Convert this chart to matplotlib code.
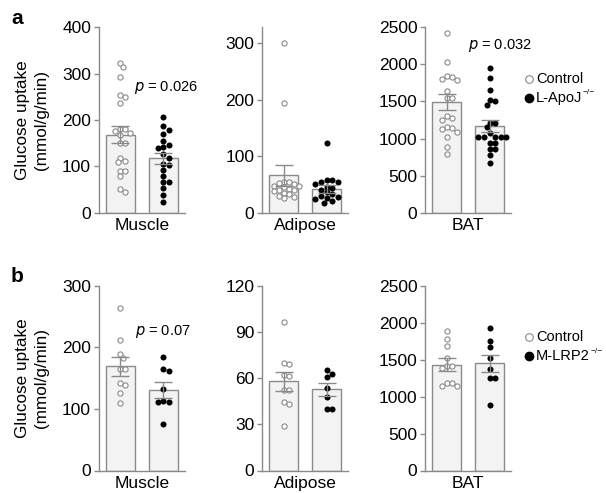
import matplotlib
matplotlib.use("Agg")
import matplotlib.pyplot as plt
import numpy as np

plt.rcParams['font.family'] = ['Liberation Sans', 'DejaVu Sans']

# ---- values ----
tissues = ["Muscle", "Adipose", "BAT"]

# panel a: Control vs L-ApoJ-/-
a_muscle_ctrl = [324, 314, 293, 254, 250, 237, 181, 180, 177, 173, 168, 150, 150,
                 119, 112, 110, 91, 90, 80, 52, 45]
a_muscle_ko = [206, 187, 178, 170, 155, 146, 142, 140, 127, 119, 106, 103, 92,
               79, 67, 67, 54, 38, 24]
a_adipose_ctrl = [300, 194, 54, 54, 52, 50, 48, 47, 45, 42, 40, 40, 38, 35, 33,
                  30, 28, 26]
a_adipose_ko = [123, 58, 57, 55, 54, 50, 46, 44, 40, 36, 33, 30, 28, 26, 24, 20, 18]
a_bat_ctrl = [2428, 2037, 1848, 1834, 1800, 1785, 1646, 1542, 1542, 1304, 1272,
              1250, 1151, 1137, 1124, 1092, 1016, 890, 791]
a_bat_ko = [1947, 1812, 1655, 1520, 1500, 1452, 1214, 1205, 1151, 1070, 1025,
            1016, 1016, 1016, 1016, 944, 944, 854, 854, 778, 674]
a_means = [(168, 117), (66, 42), (1488, 1173)]
a_sems = [(18, 11), (18, 7), (108, 80)]
a_ylims = [(400, [0, 100, 200, 300, 400]), (328, [0, 100, 200, 300]),
           (2500, [0, 500, 1000, 1500, 2000, 2500])]
a_pvals = {0: "0.026", 2: "0.032"}

# panel b: Control vs M-LRP2-/-
b_muscle_ctrl = [264, 212, 189, 182, 165, 164, 142, 138, 126, 110]
b_muscle_ko = [184, 164, 161, 133, 113, 111, 111, 75]
b_adipose_ctrl = [96.7, 69.5, 69, 62, 61.5, 52.5, 52, 44.7, 43, 28.7]
b_adipose_ko = [65.2, 62.8, 60.4, 53.3, 47.9, 40, 40]
b_bat_ctrl = [1887, 1783, 1684, 1526, 1418, 1409, 1382, 1187, 1187, 1142, 1142]
b_bat_ko = [1932, 1756, 1675, 1517, 1368, 1251, 1251, 889]
b_means = [(169, 131), (57.8, 52.7), (1431, 1449)]
b_sems = [(15, 13), (6, 4), (86, 120)]
b_ylims = [(300, [0, 100, 200, 300]), (120, [0, 30, 60, 90, 120]),
           (2500, [0, 500, 1000, 1500, 2000, 2500])]
b_pvals = {0: "0.07"}

GRAY = "#8a8a8a"
W, H = 606, 493


def swarm(vals, ytop, ax_h_px, d=4.8, step=2.5):
    # simple deterministic beeswarm, returns x offsets in px
    ys = np.asarray(vals, float) * ax_h_px / ytop
    order = np.argsort(-ys)
    xs = np.zeros(len(ys))
    placed = []
    for i in order:
        for k in range(0, 40):
            off = ((k + 1) // 2) * step * (1 if k % 2 else -1) if k else 0.0
            if all((off - px) ** 2 + (ys[i] - py) ** 2 >= d * d for px, py in placed):
                break
        xs[i] = off
        placed.append((off, ys[i]))
    return xs


def draw_panel(ax, ctrl, ko, mean, sem, ytop, ticks, name):
    ax_h_px = ax.get_position().height * H
    unit_px = ax.get_position().width * W / 2.0
    ax.bar([0, 1], mean, width=0.67, color="#f3f3f3", edgecolor=GRAY,
           linewidth=1.0, zorder=1)
    xo = swarm(ctrl, ytop, ax_h_px) / unit_px
    ax.scatter(0 + xo, ctrl, s=14, facecolor="white", edgecolor=GRAY,
               linewidth=0.8, zorder=2)
    xk = swarm(ko, ytop, ax_h_px, d=5.3, step=2.8) / unit_px
    ax.scatter(1 + xk, ko, s=19, color="black", linewidth=0, zorder=2)
    ax.errorbar([0, 1], mean, yerr=sem, fmt="none", ecolor=GRAY,
                elinewidth=1.0, capsize=6.5, capthick=1.0, zorder=3)
    ax.set_xlim(-0.5, 1.5)
    ax.set_ylim(0, ytop)
    ax.set_yticks(ticks)
    ax.set_xticks([])
    ax.set_xlabel(name, fontsize=12.5, labelpad=4)
    for s in ["top", "right"]:
        ax.spines[s].set_visible(False)
    for s in ["left", "bottom"]:
        ax.spines[s].set_color(GRAY)
        ax.spines[s].set_linewidth(1.0)
    ax.tick_params(axis="y", colors=GRAY, labelcolor="black", labelsize=12.5,
                   length=3.5, width=1.0, pad=2)
    return ax


fig = plt.figure(figsize=(W / 100, H / 100), dpi=100)
renderer = fig.canvas.get_renderer()

lefts = [98.7, 262, 425]
rows = [
    (27.3, 212.7, [a_muscle_ctrl, a_adipose_ctrl, a_bat_ctrl],
     [a_muscle_ko, a_adipose_ko, a_bat_ko], a_means, a_sems, a_ylims, a_pvals,
     "L-ApoJ", "a"),
    (285.7, 470.5, [b_muscle_ctrl, b_adipose_ctrl, b_bat_ctrl],
     [b_muscle_ko, b_adipose_ko, b_bat_ko], b_means, b_sems, b_ylims, b_pvals,
     "M-LRP2", "b"),
]
p_pos = {("a", 0): (166, 87.7), ("a", 2): (500, 45), ("b", 0): (163, 331.7)}

for top, bot, ctrls, kos, means, sems, ylims, pvals, ko_name, letter in rows:
    for j in range(3):
        ax = fig.add_axes([lefts[j] / W, 1 - bot / H, 86 / W, (bot - top) / H])
        draw_panel(ax, ctrls[j], kos[j], means[j], sems[j], ylims[j][0],
                   ylims[j][1], tissues[j])
        if j in pvals:
            px, py = p_pos[(letter, j)]
            fig.text(px / W, 1 - py / H, "$\\it{p}$ = " + pvals[j],
                     ha="center", va="center", fontsize=10.5)
    mid = 1 - (top + bot) / 2 / H
    fig.text(23 / W, mid, "Glucose uptake", rotation=90, ha="center",
             va="center", fontsize=12.3)
    fig.text(41 / W, mid, "(mmol/g/min)", rotation=90, ha="center",
             va="center", fontsize=12.3)
    fig.text(17 / W, 1 - (top - 9) / H, letter, ha="center", va="center",
             fontsize=15, fontweight="bold")
    # legend
    ly = top + 51.5
    fig.lines.append(plt.Line2D([529 / W], [1 - ly / H], marker="o", ms=5.5,
                                mfc="white", mec=GRAY, mew=0.8,
                                transform=fig.transFigure))
    fig.text(536 / W, 1 - ly / H, "Control", va="center", fontsize=10.5)
    fig.lines.append(plt.Line2D([529 / W], [1 - (ly + 19) / H], marker="o",
                                ms=6, mfc="black", mec="black",
                                transform=fig.transFigure))
    t = fig.text(536 / W, 1 - (ly + 19) / H, ko_name, va="center", fontsize=10.5)
    bb = t.get_window_extent(renderer)
    fig.text(bb.x1 / W + 0.5 / W, 1 - (ly + 14) / H, "\u2212/\u2212",
             va="center", fontsize=6)

fig.savefig("out.png", dpi=100)
